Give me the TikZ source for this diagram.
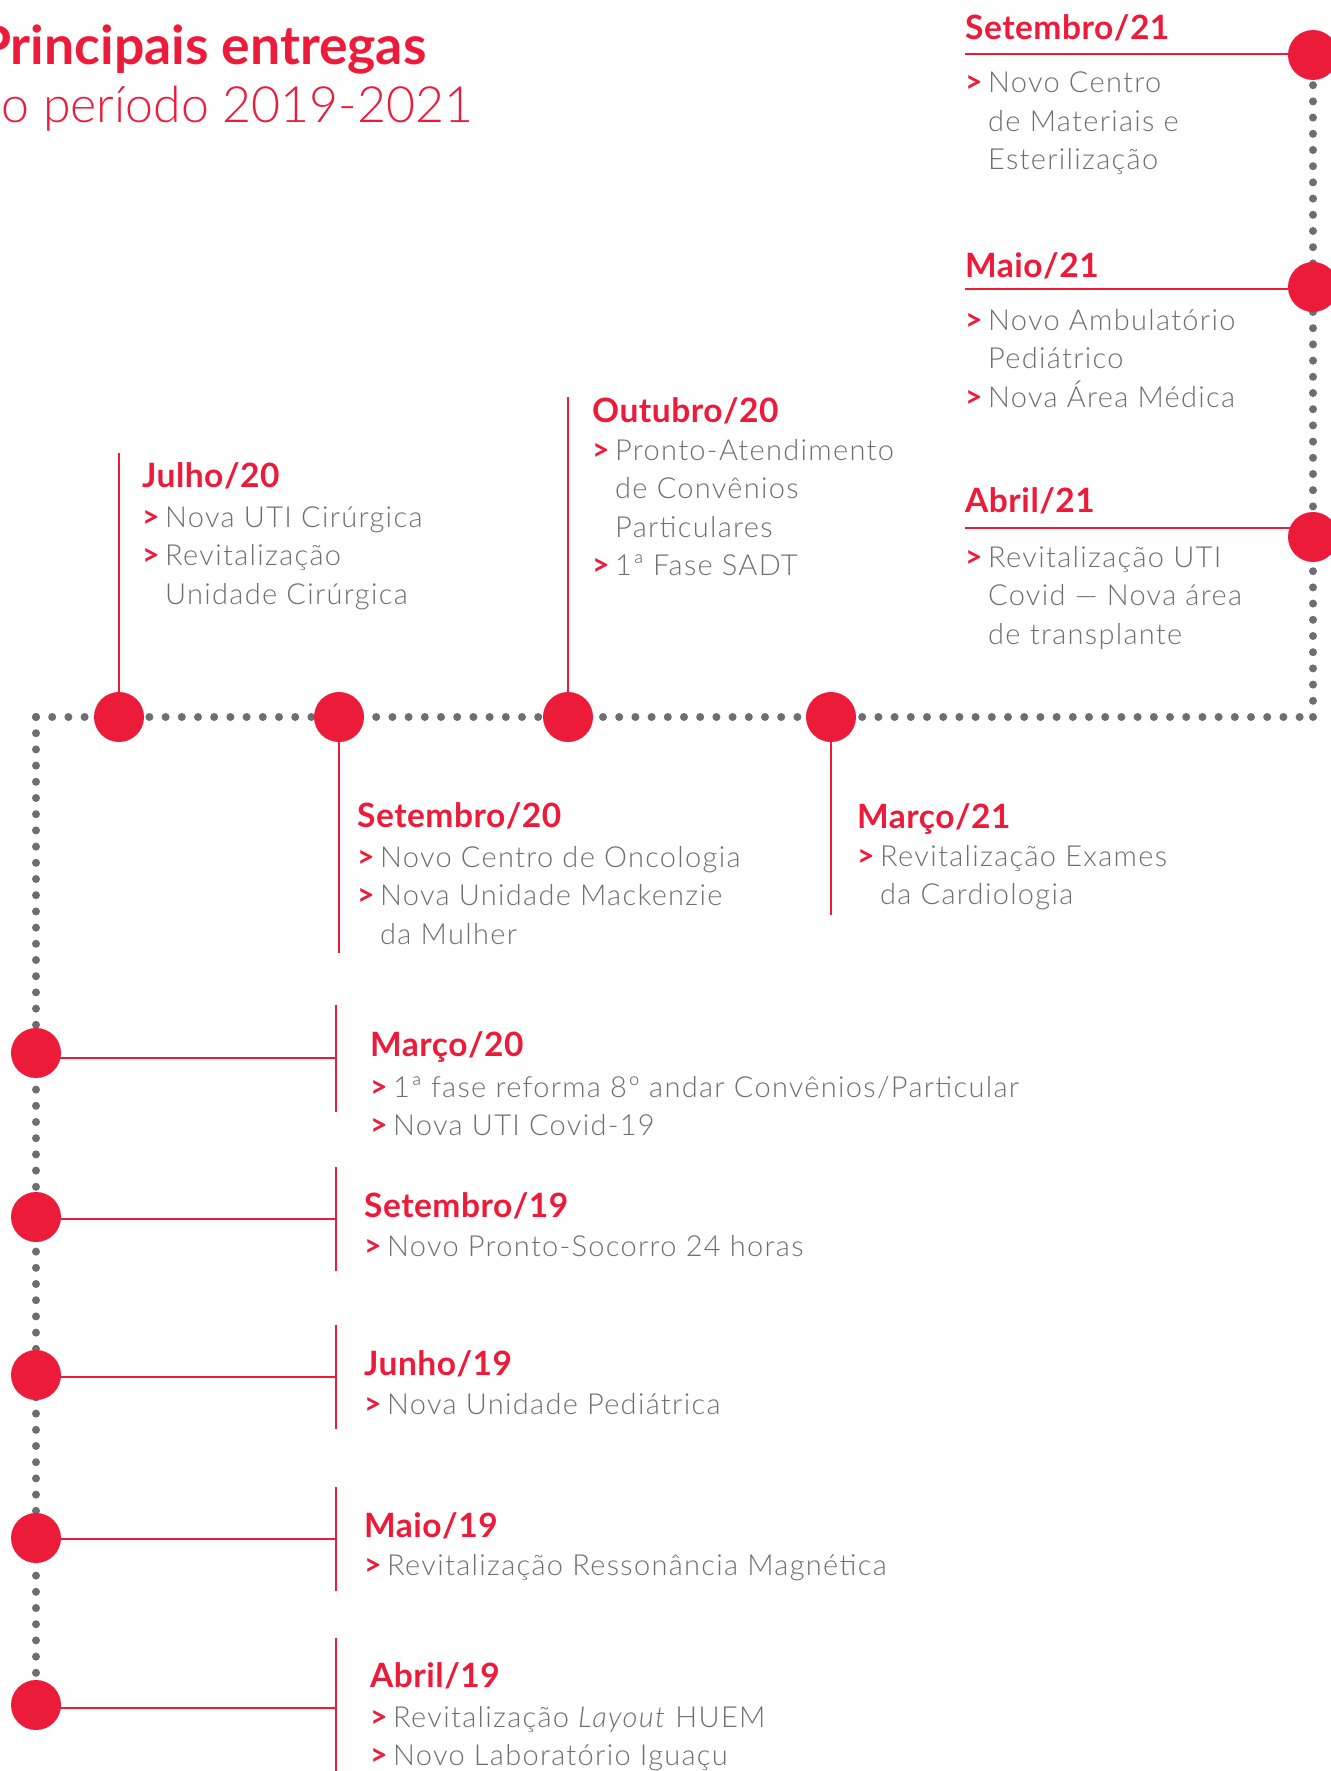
\documentclass[tikz,border=0pt]{standalone}
\usepackage{fontspec}
\setmainfont{Lato}[UprightFont=* Light, BoldFont=* Bold, ItalicFont=* Light Italic]
\newfontfamily\corpofam{Lato}[UprightFont=* Light, BoldFont=* Bold, ItalicFont=* Light Italic, LetterSpace=4.5]
\newfontfamily\mesfam{Lato}[UprightFont=* Bold, LetterSpace=1.5]
\usepackage{tikz}
\usetikzlibrary{backgrounds}

\definecolor{vermelho}{RGB}{237,27,58}
\definecolor{cinza}{RGB}{109,110,113}

\newcommand{\ftit}{\fontsize{53.5}{60}\selectfont\bfseries}
\newcommand{\fsub}{\fontsize{50}{60}\selectfont}
\newcommand{\fmes}{\mesfam\fontsize{33.5}{38.5}\selectfont}
\newcommand{\fcorpo}{\corpofam\fontsize{29}{38.5}\selectfont}
\newcommand{\marca}{\makebox[23pt][l]{\textcolor{vermelho}{\fontsize{30}{38.5}\selectfont\bfseries >}}}
\newcommand{\recuo}{\hspace*{23pt}}

\begin{document}
\begin{tikzpicture}[x=1pt,y=-1pt,
    marco/.style={circle,fill=vermelho,minimum size=50pt,inner sep=0pt},
    haste/.style={draw=vermelho,line width=2pt},
    pontos/.style={draw=cinza,line width=8pt,line cap=round,dash pattern=on 0pt off 16.2pt},
    mes/.style={anchor=base west,inner sep=0pt,text=vermelho,font=\fmes},
    corpo/.style={anchor=base west,inner sep=0pt,text=cinza,font=\fcorpo}]
	\useasboundingbox (0,0) rectangle (1330,1771);
	% titulo
	\node[anchor=base west,inner sep=0pt,text=vermelho,font=\ftit] (tit) at (-22,65) {Principais entregas};
	\node[anchor=base west,inner sep=0pt,text=vermelho,font=\fsub] (sub) at (-26,123) {no período 2019-2021};
	% marcos
	\node[marco] (S21) at (1313,55) {};
	\node[marco] (Ma21) at (1313,287) {};
	\node[marco] (A21) at (1313,537) {};
	\node[marco] (J20) at (119,717) {};
	\node[marco] (S20) at (339,717) {};
	\node[marco] (O20) at (568,717) {};
	\node[marco] (M21) at (831,717) {};
	\node[marco] (M20) at (36,1053) {};
	\node[marco] (S19) at (36,1217) {};
	\node[marco] (J19) at (36,1375) {};
	\node[marco] (Ma19) at (36,1538) {};
	\node[marco] (A19) at (36,1705) {};
	\coordinate (BL) at (36,717);
	\coordinate (BR) at (1313,717);
	% pontas das hastes
	\coordinate (S21l) at (965,54);
	\coordinate (Ma21l) at (965,289);
	\coordinate (A21l) at (965,528);
	\coordinate (J20t) at (119,453);
	\coordinate (O20t) at (568,397);
	\coordinate (S20b) at (339,953);
	\coordinate (M21b) at (831,915);
	\coordinate (M20t) at (336,1005); \coordinate (M20b) at (336,1112); \coordinate (M20h) at (336,1058);
	\coordinate (S19t) at (336,1167); \coordinate (S19b) at (336,1271); \coordinate (S19h) at (336,1219);
	\coordinate (J19t) at (336,1325); \coordinate (J19b) at (336,1429); \coordinate (J19h) at (336,1377);
	\coordinate (Ma19t) at (336,1487); \coordinate (Ma19b) at (336,1591); \coordinate (Ma19h) at (336,1539);
	\coordinate (A19t) at (336,1638); \coordinate (A19b) at (336,1780); \coordinate (A19h) at (336,1708);
	\begin{pgfonlayer}{background}
		\draw[pontos] (BR) -- (S21.center);
		\draw[pontos] (BL) -- (BR);
		\draw[pontos] (BL) -- (A19.center);
		\draw[haste] (S21l) -- (S21l -| S21.center);
		\draw[haste] (Ma21l) -- (Ma21l -| Ma21.center);
		\draw[haste] (A21l) -- (A21l -| A21.center);
		\draw[haste] (J20) -- (J20t);
		\draw[haste] (O20) -- (O20t);
		\draw[haste] (S20) -- (S20b);
		\draw[haste] (M21) -- (M21b);
		\draw[haste] (M20t) -- (M20b) (M20h) -- (M20h -| M20.center);
		\draw[haste] (S19t) -- (S19b) (S19h) -- (S19h -| S19.center);
		\draw[haste] (J19t) -- (J19b) (J19h) -- (J19h -| J19.center);
		\draw[haste] (Ma19t) -- (Ma19b) (Ma19h) -- (Ma19h -| Ma19.center);
		\draw[haste] (A19t) -- (A19b) (A19h) -- (A19h -| A19.center);
	\end{pgfonlayer}
	% 2021, coluna da direita
	\node[mes] (S21m) at (965,40) {Setembro/21};
	\node[corpo] (S21c) at (965,93) {\begin{tabular}[t]{@{}l@{}}\marca Novo Centro\\ \recuo de Materiais e\\ \recuo Esterilização\end{tabular}};
	\node[mes] (Ma21m) at (965,277) {Maio/21};
	\node[corpo] (Ma21c) at (965,330) {\begin{tabular}[t]{@{}l@{}}\marca Novo Ambulatório\\ \recuo Pediátrico\\ \marca Nova Área Médica\end{tabular}};
	\node[mes] (A21m) at (965,512) {Abril/21};
	\node[corpo] (A21c) at (965,567) {\begin{tabular}[t]{@{}l@{}}\marca Revitalização UTI\\ \recuo Covid — Nova área\\ \recuo de transplante\end{tabular}};
	% 2020/21, linha do meio
	\node[mes] (J20m) at (142,487) {Julho/20};
	\node[corpo] (J20c) at (142,527) {\begin{tabular}[t]{@{}l@{}}\marca Nova UTI Cirúrgica\\ \marca Revitalização\\ \recuo Unidade Cirúrgica\end{tabular}};
	\node[mes] (O20m) at (592,422) {Outubro/20};
	\node[corpo] (O20c) at (592,460) {\begin{tabular}[t]{@{}l@{}}\marca Pronto-Atendimento\\ \recuo de Convênios\\ \recuo Particulares\\ \marca 1ª Fase SADT\end{tabular}};
	\node[mes] (S20m) at (357,827) {Setembro/20};
	\node[corpo] (S20c) at (357,867) {\begin{tabular}[t]{@{}l@{}}\marca Novo Centro de Oncologia\\ \marca Nova Unidade Mackenzie\\ \recuo da Mulher\end{tabular}};
	\node[mes] (M21m) at (857,828) {Março/21};
	\node[corpo] (M21c) at (857,866) {\begin{tabular}[t]{@{}l@{}}\marca Revitalização Exames\\ \recuo da Cardiologia\end{tabular}};
	% 2019/20, coluna da esquerda
	\node[mes] (M20m) at (370,1056) {Março/20};
	\node[corpo] (M20c) at (370,1097) {\begin{tabular}[t]{@{}l@{}}\marca 1ª fase reforma 8º andar Convênios/Particular\\ \marca Nova UTI Covid-19\end{tabular}};
	\node[mes] (S19m) at (364,1217) {Setembro/19};
	\node[corpo] (S19c) at (364,1256) {\marca Novo Pronto-Socorro 24 horas};
	\node[mes] (J19m) at (364,1375) {Junho/19};
	\node[corpo] (J19c) at (364,1414) {\marca Nova Unidade Pediátrica};
	\node[mes] (Ma19m) at (364,1537) {Maio/19};
	\node[corpo] (Ma19c) at (364,1575) {\marca Revitalização Ressonância Magnética};
	\node[mes] (A19m) at (370,1687) {Abril/19};
	\node[corpo] (A19c) at (370,1727) {\begin{tabular}[t]{@{}l@{}}\marca Revitalização \textit{Layout} HUEM\\ \marca Novo Laboratório Iguaçu\end{tabular}};
\end{tikzpicture}
\end{document}
